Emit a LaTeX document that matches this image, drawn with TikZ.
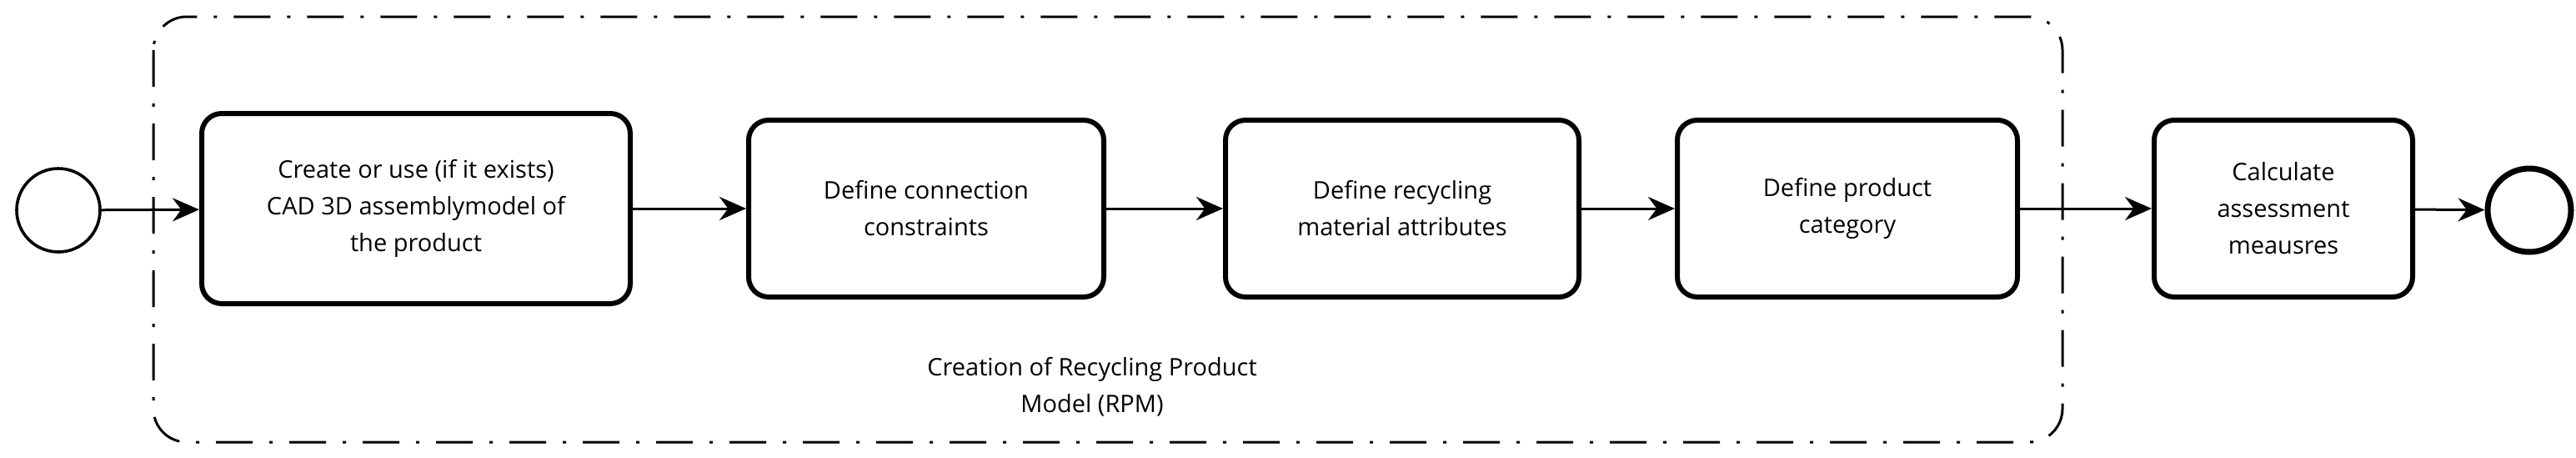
\documentclass[tikz,border=0pt]{standalone}
\usepackage{fontspec}
\setmainfont{Open Sans}
\usetikzlibrary{arrows.meta,positioning}
\tikzset{x=1pt,y=-1pt,
        task/.style={ % activity boxes
            draw, line width=3pt, rounded corners=12pt,
            align=center, inner sep=0pt},
        event/.style={draw, circle, minimum size=50pt, inner sep=0pt},
        flow/.style={ % sequence flows
            draw, line width=1.5pt, -{Stealth[length=16pt,width=14pt]}}
        }

\begin{document}
\begin{tikzpicture}[font=\fontsize{14.5}{22}\selectfont]
    \useasboundingbox (0,0) rectangle (1545,274);
    % group frame
    \draw[line width=1.5pt, rounded corners=20pt,
          dash pattern=on 22pt off 10pt on 2pt off 10pt]
        (92,10) rectangle (1237,265);
    \node[align=center] (grp) at (655,232) {Creation of Recycling Product\\Model (RPM)};

    \node[event, line width=1.8pt] (start) at (35,126) {};
    \node[task, minimum width=257pt, minimum height=114pt] (cad) at (249.5,125)
        {Create or use (if it exists)\\CAD 3D assemblymodel of\\the product};
    \node[task, minimum width=213pt, minimum height=106pt] (conn) at (555.5,125)
        {Define connection\\constraints};
    \node[task, minimum width=212pt, minimum height=106pt] (mat) at (841,125)
        {Define recycling\\material attributes};
    \node[task, minimum width=204pt, minimum height=106pt] (cat) at (1108,125)
        {Define product\\category};
    \node[task, minimum width=155pt, minimum height=106pt] (calc) at (1369.5,125)
        {Calculate\\assessment\\meausres};
    \node[event, line width=3.5pt] (end) at (1517,126) {};

    \draw[flow] (start) -- (cad);
    \draw[flow] (cad) -- (conn);
    \draw[flow] (conn) -- (mat);
    \draw[flow] (mat) -- (cat);
    \draw[flow] (cat) -- (calc);
    \draw[flow] (calc) -- (end);
\end{tikzpicture}
\end{document}
